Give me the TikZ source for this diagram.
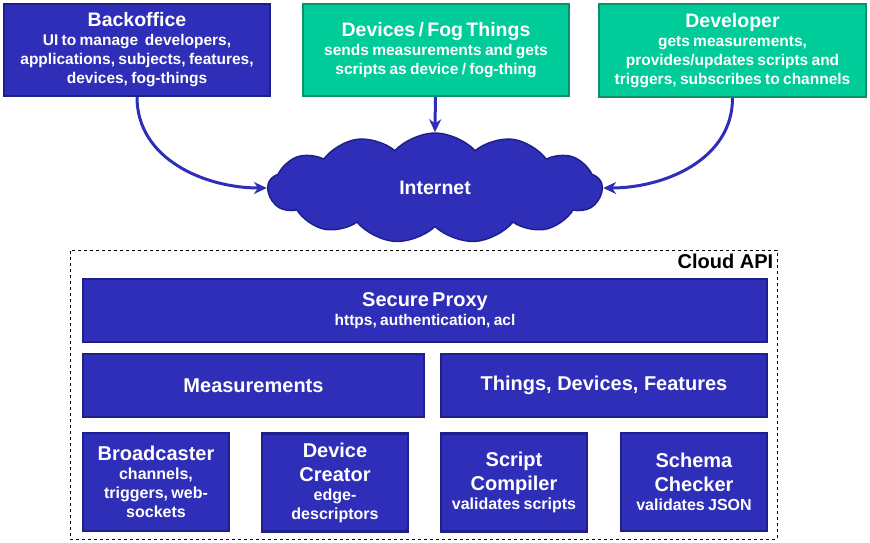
\documentclass[tikz,border=0pt]{standalone}
\usepackage{fontspec}
\setmainfont{Liberation Sans}
\usetikzlibrary{arrows.meta,shapes.symbols}
\definecolor{boxBlue}{HTML}{2E2EB8}
\definecolor{boxBlueLine}{HTML}{1F1F8C}
\definecolor{boxGreen}{HTML}{00CC99}
\definecolor{boxGreenLine}{HTML}{0D8F6B}
\newcommand{\boxttl}{\fontsize{19.5}{24}\selectfont}
\newcommand{\boxsub}{\fontsize{15.5}{19}\selectfont}
\newcommand{\smallttl}{\fontsize{20}{24}\selectfont}
\newcommand{\smallsub}{\fontsize{16}{19}\selectfont}

\begin{document}
\begin{tikzpicture}[x=1pt,y=-1pt,
                    blueND/.style={rectangle,
                                   draw=boxBlueLine,
                                   fill=boxBlue,
                                   line width=2.2pt,
                                   text=white,
                                   font=\bfseries,
                                   align=center,
                                   inner sep=2pt},
                    greenND/.style={blueND,
                                    draw=boxGreenLine,
                                    fill=boxGreen},
                    smallND/.style={blueND,
                                    minimum width=146,
                                    minimum height=98,
                                    text width=142},
                    linkND/.style={-{Stealth[length=13pt,width=12pt]},
                                   line width=3pt,
                                   draw=boxBlue}]
            \useasboundingbox (0,0) rectangle (870,542);
            % clients
            \node[blueND, minimum width=266, minimum height=92, text width=262](back) at (137,50)
                {\boxttl Backoffice\par\boxsub UI to manage~ developers,\par applications, subjects, features,\par devices, fog-things\par};
            \node[greenND, minimum width=266, minimum height=92, text width=262](fog) at (436,50)
                {\boxttl Devices / Fog Things\par\boxsub sends measurements and gets\par scripts as device / fog-thing\par};
            \node[greenND, minimum width=267, minimum height=93, text width=263](devl) at (732.5,50.5)
                {\boxttl Developer\par\boxsub gets measurements,\par provides/updates scripts and\par triggers, subscribes to channels\par};
            \node[cloud, cloud puffs=13, cloud puff arc=95, cloud ignores aspect, draw=boxBlueLine,
                  fill=boxBlue, line width=1.5pt, text=white, font=\bfseries\boxttl,
                  minimum width=334, minimum height=110](net) at (435,188) {Internet};
            \path
                (back) edge [linkND, out=-90, in=180] (net.west)
                (fog)  edge [linkND]                 (net.north)
                (devl) edge [linkND, out=-90, in=0  ] (net.east)
                ;
            % cloud api
            \node[draw, dashed, line width=0.8pt, minimum width=707, minimum height=289](api) at (423.5,394.5) {};
            \node[anchor=north east, inner sep=4pt, font=\bfseries\fontsize{20}{22}\selectfont](apiLbl) at (api.north east) {Cloud API};
            \node[blueND, minimum width=684, minimum height=63, text width=600](proxy) at (425,310.5)
                {\smallttl Secure Proxy\par\boxsub https, authentication, acl\par};
            \node[blueND, minimum width=341, minimum height=63](meas) at (253.5,385.5) {\smallttl Measurements};
            \node[blueND, minimum width=326, minimum height=63](things) at (604,385.5) {\smallttl Things, Devices, Features};
            \node[smallND](bcast) at (156,482)
                {\smallttl Broadcaster\par\smallsub channels,\par triggers, web-\par sockets\par};
            \node[smallND](creator) at (335,482.5)
                {\smallttl Device\par Creator\par\smallsub edge-\par descriptors\par};
            \node[smallND](compiler) at (514,482.5)
                {\smallttl Script\par Compiler\par\smallsub validates scripts\par};
            \node[smallND](checker) at (694,482)
                {\smallttl Schema\par Checker\par\smallsub validates JSON\par};
        \end{tikzpicture}
\end{document}
